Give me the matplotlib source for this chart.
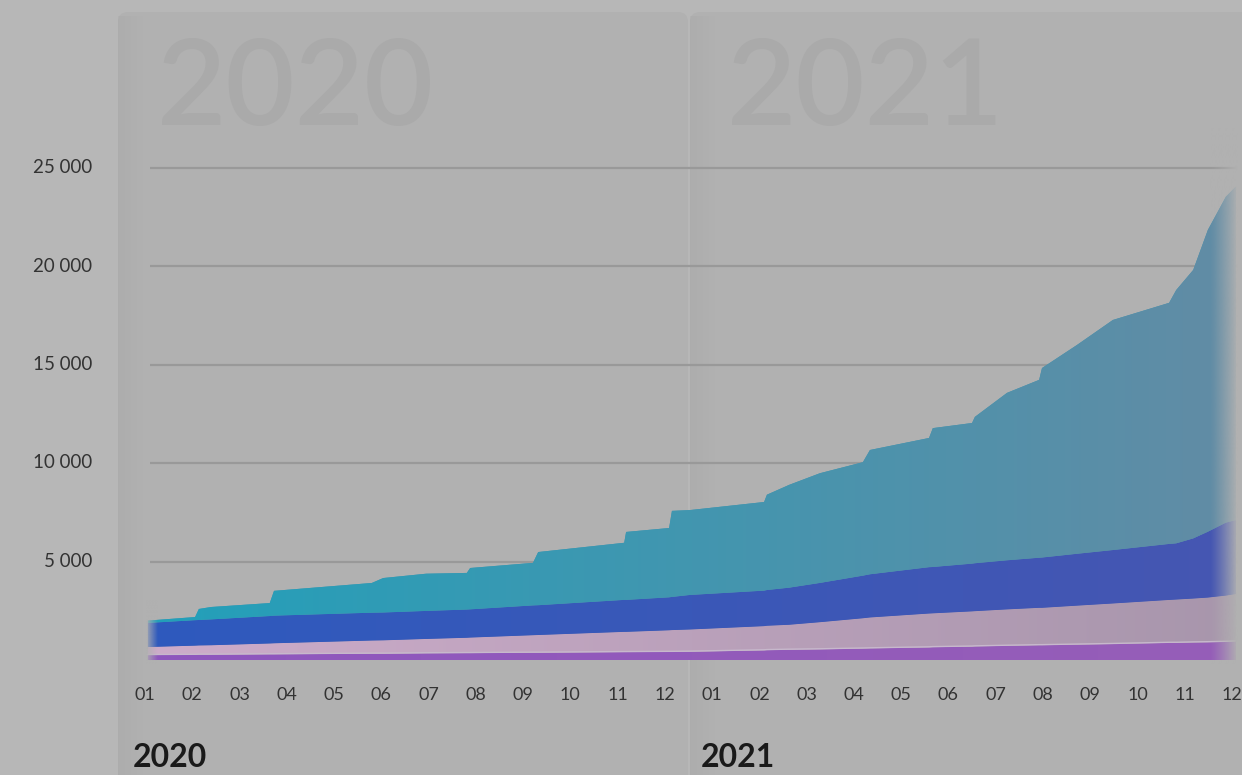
import numpy as np
import matplotlib
matplotlib.use("Agg")
import matplotlib.pyplot as plt
from matplotlib.patches import FancyBboxPatch, Rectangle
import matplotlib.transforms as mtransforms

plt.rcParams['font.family'] = ['Lato', 'DejaVu Sans']

# ---------------- data ----------------
# time in months since the first "01" tick of 2020 (fractional)
months_t = [0.06, 1.06, 1.14, 1.40, 2.64, 2.73, 4.80, 5.04, 5.95, 6.81, 6.88, 8.21, 8.32,
            10.14, 10.18, 11.09, 11.15, 11.53, 13.10, 13.16, 13.63, 14.28, 15.19, 15.34,
            16.59, 16.67, 17.50, 17.56, 18.24, 18.92, 18.98, 19.72, 20.48, 21.67, 21.82,
            22.18, 22.49, 22.87, 23.08]
purple = [250, 260, 270, 270, 290, 290, 320, 320, 340, 350, 350, 370, 370, 400, 400, 410,
          410, 420, 490, 500, 520, 540, 580, 590, 640, 650, 680, 690, 720, 750, 750, 780,
          810, 870, 870, 890, 900, 920, 940]
pink = [410, 470, 470, 480, 550, 560, 670, 680, 730, 780, 790, 890, 900, 1030, 1030, 1100,
        1110, 1130, 1230, 1240, 1270, 1380, 1540, 1570, 1720, 1720, 1790, 1790, 1850, 1900,
        1900, 1980, 2060, 2180, 2200, 2230, 2270, 2350, 2410]
blue = [1220, 1290, 1290, 1310, 1390, 1400, 1410, 1410, 1420, 1430, 1430, 1510, 1510, 1620,
        1620, 1670, 1680, 1750, 1800, 1810, 1880, 1990, 2160, 2190, 2350, 2350, 2420, 2430,
        2490, 2540, 2550, 2630, 2710, 2840, 2850, 3050, 3340, 3700, 3750]
teal = [120, 160, 560, 630, 660, 1260, 1510, 1750, 1890, 1860, 2100, 2160, 2700, 2900, 3450,
        3520, 4370, 4310, 4500, 4840, 5220, 5570, 5760, 6310, 6560, 7050, 7140, 7430, 8500,
        9030, 9620, 10600, 11680, 12240, 12860, 13630, 15320, 16540, 16920]

month_labels = ["01", "02", "03", "04", "05", "06", "07", "08", "09", "10", "11", "12"]
years = ["2020", "2021"]
y_ticks = [5000, 10000, 15000, 20000, 25000]
y_tick_labels = ["5 000", "10 000", "15 000", "20 000", "25 000"]

# ---------------- figure ----------------
W, H = 1242, 775
fig = plt.figure(figsize=(W / 100, H / 100), dpi=100)
BG = (183 / 255, 183 / 255, 183 / 255)
PANEL = (177 / 255, 177 / 255, 177 / 255)
fig.patch.set_facecolor(BG)

# background / decoration axes in pixel coordinates
axb = fig.add_axes([0, 0, 1, 1])
axb.set_xlim(0, W)
axb.set_ylim(H, 0)
axb.axis("off")
axb.set_zorder(0)

panels = [(118, 688), (690, W + 30)]
for (x0, x1) in panels:
    p = FancyBboxPatch((x0, 12), x1 - x0, H + 40, boxstyle="round,pad=0,rounding_size=10",
                       facecolor=PANEL, edgecolor="none", zorder=1)
    axb.add_patch(p)
    # left shadow strip
    n = 64
    grad = np.zeros((1, n, 4))
    grad[0, :, :3] = 0.62
    grad[0, :, 3] = np.linspace(0.22, 0.0, n)
    axb.imshow(grad, extent=[x0, x0 + 26, H + 40, 16], aspect="auto", zorder=2,
               interpolation="bilinear")

big_year_x = [157, 727]
for yr, bx in zip(years, big_year_x):
    axb.text(bx, 125, yr, fontsize=86, fontweight="semibold", color=(0.665, 0.665, 0.665),
             ha="left", va="baseline", zorder=3)

# data axes
ax = fig.add_axes([0, 0, 1, 1])
ax.set_facecolor("none")
ax.set_zorder(1)
ax.axis("off")

PX_PER_MONTH = 47.26
X0_PX = 145
VAL_PER_PX = 5000 / 98.5
ZERO_PX = 660
xlim = (-X0_PX / PX_PER_MONTH, (W - X0_PX) / PX_PER_MONTH)
ylim = ((ZERO_PX - H) * VAL_PER_PX, ZERO_PX * VAL_PER_PX)

t = np.array(months_t)
layers = [np.array(purple), np.array(pink), np.array(blue), np.array(teal)]
cols = [((142, 86, 190), (150, 94, 184)),
        ((205, 172, 202), (168, 150, 172)),
        ((46, 90, 190), (70, 86, 178)),
        ((34, 160, 186), (98, 140, 165))]

# gridlines
ax.hlines(y_ticks, (150 - X0_PX) / PX_PER_MONTH, xlim[1], colors=(0.6, 0.6, 0.6),
          linewidth=1.6, zorder=1)

base = np.zeros_like(t, dtype=float)
for vals, (cl, cr) in zip(layers, cols):
    top = base + vals
    cl = np.array(cl) / 255
    cr = np.array(cr) / 255
    poly = ax.fill_between(t, base, top, facecolor=(cl + cr) / 2, edgecolor="none",
                           linewidth=0, zorder=2)
    n = 256
    img = np.zeros((1, n, 3))
    s = np.linspace(0, 1, n)
    for i in range(3):
        img[0, :, i] = cl[i] + (cr[i] - cl[i]) * s
    im = ax.imshow(img, extent=[t[0], t[-1], 0, 26000], aspect="auto", zorder=3,
                   interpolation="bilinear", origin="lower")
    im.set_clip_path(poly.get_paths()[0], transform=ax.transData)
    base = top

# thin light separation above the purple layer
ax.plot(t, np.array(purple) + 30, color=(0.78, 0.72, 0.80), linewidth=1.0, zorder=4)

# fade at the right and left ends
n = 128
fade = np.zeros((1, n, 4))
fade[0, :, :3] = PANEL
fade[0, :, 3] = np.linspace(0, 1, n) ** 1.2
xr0 = (1210 - X0_PX) / PX_PER_MONTH
xr1 = (1238 - X0_PX) / PX_PER_MONTH
ax.imshow(fade, extent=[xr0, xr1, -200, 27000], aspect="auto", zorder=5,
          interpolation="bilinear")
ax.add_patch(Rectangle((xr1, -200), xlim[1] - xr1 + 1, 27200, facecolor=PANEL,
                       edgecolor="none", zorder=5))
fadeL = np.zeros((1, n, 4))
fadeL[0, :, :3] = PANEL
fadeL[0, :, 3] = np.linspace(0.9, 0, n)
xl0 = (146 - X0_PX) / PX_PER_MONTH
xl1 = (158 - X0_PX) / PX_PER_MONTH
ax.imshow(fadeL, extent=[xl0, xl1, -200, 3000], aspect="auto", zorder=5,
          interpolation="bilinear")

ax.set_xlim(*xlim)
ax.set_ylim(*ylim)

# y tick labels
trans_y = mtransforms.blended_transform_factory(axb.transData, ax.transData)
for v, lab in zip(y_ticks, y_tick_labels):
    ax.text(92, v, lab, transform=trans_y, ha="right", va="center", fontsize=13.5,
            color=(0.2, 0.2, 0.2), zorder=6)

# x tick labels
trans_x = mtransforms.blended_transform_factory(ax.transData, axb.transData)
for yi in range(len(years)):
    for mi, lab in enumerate(month_labels):
        ax.text(yi * 12 + mi, 695, lab, transform=trans_x, ha="center", va="center",
                fontsize=13, color=(0.2, 0.2, 0.2), zorder=6)

# year labels
for yi, yr in enumerate(years):
    ax.text(yi * 12 - 0.25, 767, yr, transform=trans_x, ha="left", va="baseline",
            fontsize=23, fontweight="bold", color=(0.1, 0.1, 0.1), zorder=6)

fig.savefig("out.png", dpi=100, facecolor=fig.get_facecolor())
